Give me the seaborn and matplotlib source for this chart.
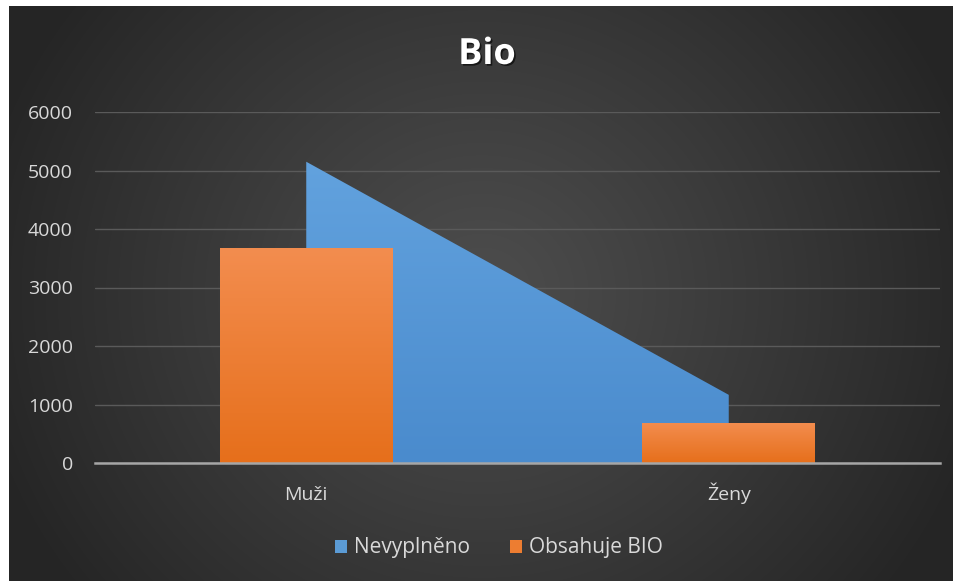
import numpy as np
import pandas as pd
import matplotlib
matplotlib.use("Agg")
import matplotlib.pyplot as plt
from matplotlib.patches import Patch
import matplotlib.patheffects as pe
import seaborn as sns

categories = ["Muži", "Ženy"]
nevyplneno = [5150, 1165]
obsahuje_bio = [3670, 685]
series_names = ["Nevyplněno", "Obsahuje BIO"]
y_ticks = [0, 1000, 2000, 3000, 4000, 5000, 6000]

sns.set_theme(style="dark")
plt.rcParams["font.family"] = ["Open Sans", "DejaVu Sans"]

W, H, DPI = 954, 581, 100
fig = plt.figure(figsize=(W / DPI, H / DPI), dpi=DPI, facecolor="white")

# dark panel with a radial gradient behind the chart (pixel-exact)
PW, PH = W - 9 + 4, H - 6 + 4
yy, xx = np.mgrid[0:PH, 0:PW]
cx, cy = (W - 9) * 0.5, (H - 6) * 0.5
r = np.sqrt(((xx - cx) / ((W - 9) * 0.55)) ** 2 + ((yy - cy) / ((H - 6) * 0.85)) ** 2)
r = np.clip(r, 0, 1) ** 1.1
inner = np.array([0x4d, 0x4d, 0x4d]) / 255
outer = np.array([0x25, 0x25, 0x25]) / 255
img = inner[None, None, :] * (1 - r[..., None]) + outer[None, None, :] * r[..., None]
fig.figimage(img, xo=9, yo=-4, origin="upper", zorder=-10)

ax = fig.add_axes([95 / W, (H - 463) / H, 845 / W, 351 / H])
ax.set_zorder(1)
ax.set_facecolor("none")

df = pd.DataFrame({"kategorie": categories, "hodnota": obsahuje_bio})
xpos = np.arange(len(categories))

# area series
area = ax.fill_between(xpos, 0, nevyplneno, color="#5b9bd5", lw=0, zorder=2)

# bar series
sns.barplot(data=df, x="kategorie", y="hodnota", color="#ed7d31", width=0.41,
            saturation=1, ax=ax, zorder=3, edgecolor="none", linewidth=0)

ax.set_xlim(-0.5, 1.5)
ax.set_ylim(0, 6000)


def gradient_fill(path, transform, top, bottom, z):
    dv = transform.transform(path.vertices)
    dv = ax.transData.inverted().transform(dv)
    x0, x1 = dv[:, 0].min(), dv[:, 0].max()
    y0, y1 = dv[:, 1].min(), dv[:, 1].max()
    t = np.linspace(0, 1, 256)[:, None]
    top = np.array(matplotlib.colors.to_rgb(top))
    bottom = np.array(matplotlib.colors.to_rgb(bottom))
    grad = top[None, :] * (1 - t) + bottom[None, :] * t
    grad = np.repeat(grad[:, None, :], 2, axis=1)
    im = ax.imshow(grad, extent=[x0, x1, y0, y1], aspect="auto",
                   origin="upper", zorder=z, interpolation="bilinear")
    im.set_clip_path(path, transform)


area_path = area.get_paths()[0]
gradient_fill(area_path, ax.transData, "#62a2de", "#4a8bcd", 2)
area.set_facecolor("none")
for bar in list(ax.patches):
    gradient_fill(bar.get_path(), bar.get_transform(), "#f38d4f", "#e66f1b", 3)
    bar.set_facecolor("none")
ax.set_xlim(-0.5, 1.5)
ax.set_ylim(0, 6000)

ax.set_yticks(y_ticks)
ax.set_yticklabels([str(v) for v in y_ticks])
ax.grid(axis="y", color="#5a5a5a", linewidth=1.0, zorder=1)
ax.grid(axis="x", visible=False)
ax.set_axisbelow(True)
for s in ["top", "right", "left"]:
    ax.spines[s].set_visible(False)
ax.spines["bottom"].set_color("#a6a6a6")
ax.spines["bottom"].set_linewidth(1.8)
ax.spines["bottom"].set_zorder(4)
ax.tick_params(axis="y", colors="#d9d9d9", labelsize=14, length=0, pad=16)
ax.tick_params(axis="x", colors="#d9d9d9", labelsize=14, length=0, pad=27)
for lbl in ax.get_yticklabels():
    lbl.set_color("#d9d9d9")
for lbl in ax.get_xticklabels():
    lbl.set_color("#d9d9d9")
    lbl.set_va("baseline")
ax.set_xlabel("")
ax.set_ylabel("")

fig.text(487 / W, 1 - 55 / H, "Bio", ha="center", va="center", fontsize=26,
         fontweight="bold", color="white",
         path_effects=[pe.withSimplePatchShadow(offset=(1.2, -1.2), shadow_rgbFace="black", alpha=0.6)])

handles = [Patch(facecolor="#5b9bd5", edgecolor="none"),
           Patch(facecolor="#ed7d31", edgecolor="none")]
leg = fig.legend(handles, series_names, loc="center", bbox_to_anchor=(499 / W, 1 - 548 / H),
                 ncol=2, frameon=False, fontsize=15, handlelength=0.58, handleheight=0.58,
                 handletextpad=0.35, columnspacing=1.9, labelcolor="#d9d9d9")

fig.savefig("out.png", dpi=DPI, facecolor="white")
